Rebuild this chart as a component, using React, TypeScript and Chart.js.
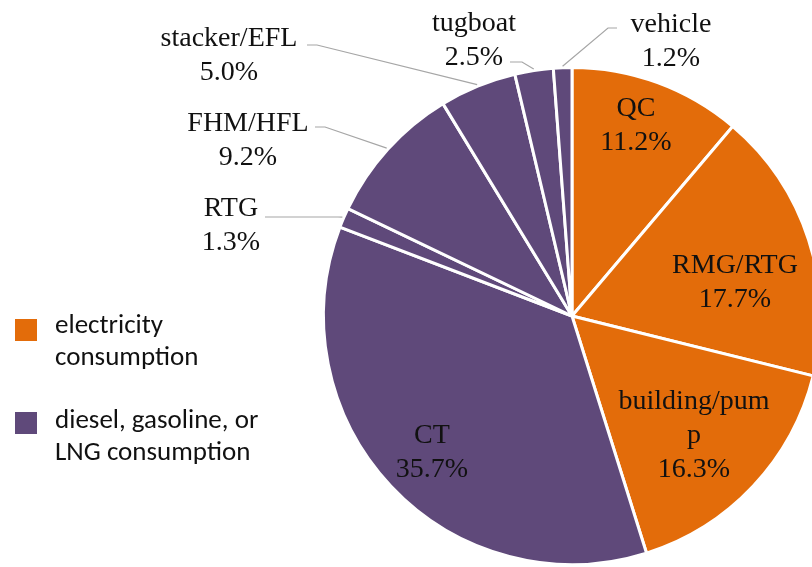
import React, { useEffect, useRef } from "react";
import { Chart, registerables } from "chart.js";

Chart.register(...registerables);

// ---- data ----
const categories = ["QC", "RMG/RTG", "building/pump", "CT", "RTG", "FHM/HFL", "stacker/EFL", "tugboat", "vehicle"];
const shares = [11.2, 17.7, 16.3, 35.7, 1.3, 9.2, 5.0, 2.5, 1.2];
const energyGroup = [0, 0, 0, 1, 1, 1, 1, 1, 1];
const labelLines = [["QC"], ["RMG/RTG"], ["building/pum", "p"], ["CT"], ["RTG"], ["FHM/HFL"], ["stacker/EFL"], ["tugboat"], ["vehicle"]];
const groupLegendLines = [["electricity", "consumption"], ["diesel, gasoline, or", "LNG consumption"]];

// ---- styles / placement (relative to pie centre, in px at radius 250) ----
const groupColors = ["#E36C0A", "#5F497A"];
const labelPlacement = [
  { dx: 64, dy: -190 },
  { dx: 163, dy: -33 },
  { dx: 122, dy: 120 },
  { dx: -140, dy: 137 },
  { dx: -341, dy: -90, elbow: [-234, -99], end: -307 },
  { dx: -324, dy: -175, elbow: [-247, -189], end: -257 },
  { dx: -343, dy: -260, elbow: [-255, -271], end: -265 },
  { dx: -98, dy: -275, elbow: [-50, -254], end: -62 },
  { dx: 99, dy: -274, elbow: [36, -288], end: 45 },
];

const SERIF = "'Liberation Serif', 'Times New Roman', serif";
const SANS = "Carlito, Lato, sans-serif";

const labelPlugin = {
  id: "pieLabels",
  afterDatasetsDraw(chart: any) {
    const ctx = chart.ctx;
    const meta = chart.getDatasetMeta(0);
    ctx.save();
    meta.data.forEach((arc: any, i: number) => {
      const p = arc.getProps(["x", "y", "startAngle", "endAngle", "outerRadius"], true);
      const R = p.outerRadius + 1.5;
      const s = R / 250;
      const pl: any = labelPlacement[i];
      const lines = [...labelLines[i], shares[i].toFixed(1) + "%"];
      if (pl.elbow) {
        const mid = (p.startAngle + p.endAngle) / 2;
        const sx = p.x + Math.cos(mid) * R;
        const sy = p.y + Math.sin(mid) * R;
        ctx.strokeStyle = "#A6A6A6";
        ctx.lineWidth = 1.2;
        ctx.beginPath();
        ctx.moveTo(sx, sy);
        ctx.lineTo(p.x + pl.elbow[0] * s, p.y + pl.elbow[1] * s);
        ctx.lineTo(p.x + pl.end * s, p.y + pl.elbow[1] * s);
        ctx.stroke();
      }
      ctx.fillStyle = "#111111";
      ctx.font = `28px ${SERIF}`;
      ctx.textAlign = "center";
      ctx.textBaseline = "middle";
      const lh = 34;
      const cx = p.x + pl.dx * s;
      const cy = p.y + pl.dy * s;
      const top = cy - ((lines.length - 1) * lh) / 2;
      lines.forEach((t, k) => ctx.fillText(t, cx, top + k * lh));
    });

    // group legend
    const legendTop = [319, 412];
    const legendBase = [333, 428];
    groupLegendLines.forEach((ls, g) => {
      ctx.fillStyle = groupColors[g];
      ctx.fillRect(15, legendTop[g], 22, 22);
      ctx.fillStyle = "#111111";
      ctx.font = `27px ${SANS}`;
      ctx.textAlign = "left";
      ctx.textBaseline = "alphabetic";
      ls.forEach((t, k) => ctx.fillText(t, 55, legendBase[g] + k * 32));
    });
    ctx.restore();
  },
};

export default function App() {
  const ref = useRef<HTMLCanvasElement>(null);
  useEffect(() => {
    if (!ref.current) return;
    const chart = new Chart(ref.current, {
      type: "pie",
      data: {
        labels: categories,
        datasets: [
          {
            data: shares,
            backgroundColor: energyGroup.map((g) => groupColors[g]),
            borderColor: "#FFFFFF",
            borderWidth: 3,
          },
        ],
      },
      options: {
        responsive: false,
        animation: false,
        devicePixelRatio: 1,
        layout: { padding: { left: 322, top: 66, right: 18, bottom: 34 } },
        plugins: { legend: { display: false }, tooltip: { enabled: false } },
      },
      plugins: [labelPlugin],
    });
    return () => chart.destroy();
  }, []);
  return (
    <div style={{ position: "absolute", left: 0, top: 0, width: 812, height: 567, overflow: "hidden", background: "#fff" }}>
      <canvas ref={ref} width={840} height={600} style={{ width: 840, height: 600, display: "block" }} />
    </div>
  );
}
